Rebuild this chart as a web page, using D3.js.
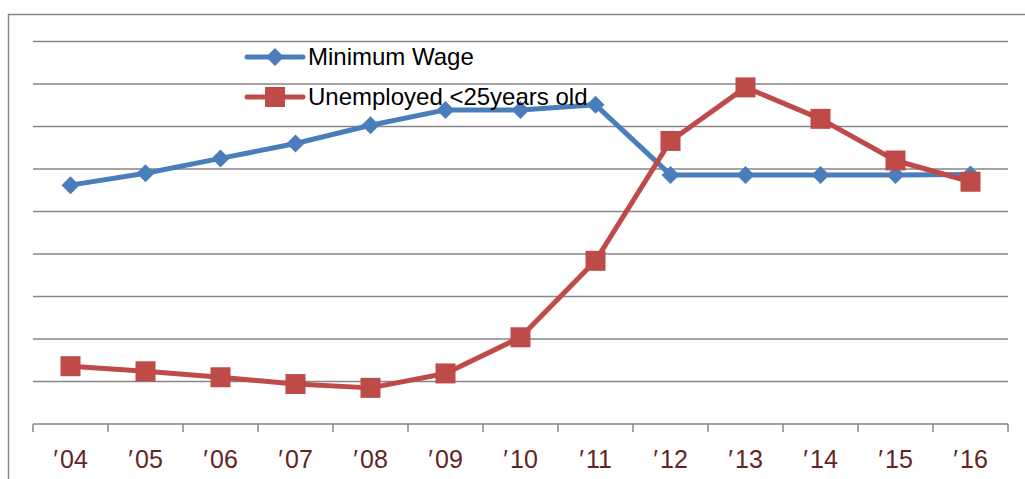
<!DOCTYPE html>
<html>
<head>
<meta charset="utf-8">
<script src="https://cdn.jsdelivr.net/npm/d3@7"></script>
<style>
  body { margin: 0; background: #fff; }
  svg { display: block; }
</style>
</head>
<body>
<svg id="chart" width="1025" height="479"></svg>
<script>
// years on the x axis
const years = ["04", "05", "06", "07", "08", "09", "10", "11", "12", "13", "14", "15", "16"];
// values in grid units (the chart has no y labels)
const minimumWage = [5.62, 5.9, 6.25, 6.6, 7.03, 7.39, 7.39, 7.51, 5.86, 5.86, 5.86, 5.86, 5.87];
const unemployedYouth = [1.36, 1.24, 1.1, 0.94, 0.85, 1.19, 2.04, 3.84, 6.66, 7.92, 7.18, 6.2, 5.7];
const seriesNames = ["Minimum Wage", "Unemployed <25years old"];
const gridValues = [1, 2, 3, 4, 5, 6, 7, 8, 9];

const blue = "#4a7ebb", red = "#be4b48", grid = "#868686", labelColor = "#632523";

const svg = d3.select("#chart");
const plotLeft = 33, plotRight = 1008, plotTop = 41.5, plotBottom = 424;

const x = d3.scaleBand().domain(years).range([plotLeft, plotRight]);
const y = d3.scaleLinear().domain([0, 9]).range([plotBottom, plotTop]);
const cx = d => x(d) + x.bandwidth() / 2;

// outer chart frame (clipped by the window on right and bottom)
svg.append("rect")
  .attr("x", 8.5).attr("y", 14.5)
  .attr("width", 1100).attr("height", 600)
  .attr("fill", "none").attr("stroke", grid).attr("stroke-width", 1.5);

// gridlines
svg.append("g").selectAll("line")
  .data(gridValues)
  .join("line")
    .attr("x1", plotLeft).attr("x2", plotRight)
    .attr("y1", d => y(d)).attr("y2", d => y(d))
    .attr("stroke", grid).attr("stroke-width", 1.5);

// x axis
const xAxis = svg.append("g").attr("transform", `translate(0,${plotBottom})`);
xAxis.append("line")
  .attr("x1", plotLeft).attr("x2", plotRight)
  .attr("stroke", grid).attr("stroke-width", 1.5);
xAxis.selectAll("line.tick")
  .data(years.map(d => x(d)).concat([plotRight]))
  .join("line")
    .attr("class", "tick")
    .attr("x1", d => d).attr("x2", d => d)
    .attr("y1", 0).attr("y2", 8)
    .attr("stroke", grid).attr("stroke-width", 1.5);
xAxis.selectAll("text")
  .data(years)
  .join("text")
    .attr("x", d => cx(d))
    .attr("y", 44)
    .attr("text-anchor", "middle")
    .attr("fill", labelColor)
    .style("font-family", "'Liberation Sans', Arial, sans-serif")
    .style("font-size", "25px")
    .text(d => "\u2032\u200a" + d);

const line = d3.line()
  .x((d, i) => cx(years[i]))
  .y(d => y(d));

// minimum wage
svg.append("path")
  .datum(minimumWage)
  .attr("d", line)
  .attr("fill", "none").attr("stroke", blue).attr("stroke-width", 5)
  .attr("stroke-linejoin", "round");
svg.append("g").selectAll("path")
  .data(minimumWage)
  .join("path")
    .attr("transform", (d, i) => `translate(${cx(years[i])},${y(d)})`)
    .attr("d", "M0,-9L9,0L0,9L-9,0Z")
    .attr("fill", blue);

// unemployed under 25
svg.append("path")
  .datum(unemployedYouth)
  .attr("d", line)
  .attr("fill", "none").attr("stroke", red).attr("stroke-width", 5)
  .attr("stroke-linejoin", "round");
svg.append("g").selectAll("rect")
  .data(unemployedYouth)
  .join("rect")
    .attr("x", (d, i) => cx(years[i]) - 10)
    .attr("y", d => y(d) - 10)
    .attr("width", 20).attr("height", 20)
    .attr("fill", red);

// legend
const legend = svg.append("g").attr("transform", "translate(247,57)");
const rows = legend.selectAll("g")
  .data(seriesNames)
  .join("g")
    .attr("transform", (d, i) => `translate(0,${i * 40})`);
rows.append("line")
  .attr("x1", 0).attr("x2", 56)
  .attr("stroke", (d, i) => i ? red : blue)
  .attr("stroke-width", 5).attr("stroke-linecap", "round");
rows.filter((d, i) => i == 0).append("path")
  .attr("transform", "translate(28,0)")
  .attr("d", "M0,-9L9,0L0,9L-9,0Z")
  .attr("fill", blue);
rows.filter((d, i) => i == 1).append("rect")
  .attr("x", 18).attr("y", -10)
  .attr("width", 20).attr("height", 20)
  .attr("fill", red);
rows.append("text")
  .attr("x", 61).attr("y", 8)
  .attr("fill", "#000")
  .style("font-family", "'Liberation Sans', Arial, sans-serif")
  .style("font-size", "24px")
  .text(d => d);
</script>
</body>
</html>
